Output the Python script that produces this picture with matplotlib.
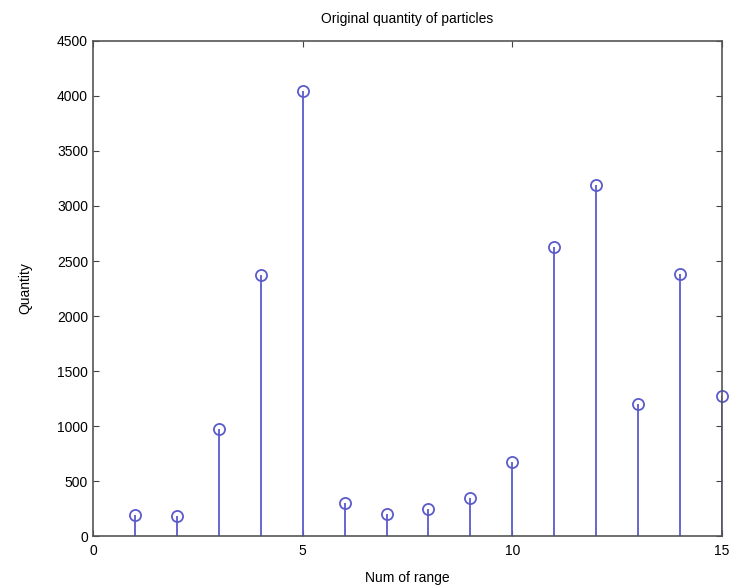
import matplotlib
matplotlib.use('Agg')
import numpy as np
import matplotlib.pyplot as plt

ranges = np.arange(1, 16)
quantity = [195, 185, 971, 2375, 4043, 303, 197, 246, 343, 670,
            2623, 3188, 1201, 2384, 1277]

xticks = [0, 5, 10, 15]
yticks = list(range(0, 4501, 500))

plt.rcParams['font.family'] = ['Liberation Sans', 'DejaVu Sans']

fig = plt.figure(figsize=(7.31, 5.88), dpi=100)
ax = fig.add_axes([0.1272, 0.0884, 0.8605, 0.8419])

stem_color = '#5b5bcc'
markers, stems, base = ax.stem(ranges, quantity, basefmt=' ')
plt.setp(stems, color=stem_color, linewidth=1.3)
plt.setp(markers, color=stem_color, marker='o', markerfacecolor='none',
         markersize=8, markeredgewidth=1.3, clip_on=False)

ax.set_xlim(0, 15)
ax.set_ylim(0, 4500)
ax.set_xticks(xticks)
ax.set_yticks(yticks)
ax.tick_params(direction='in', top=True, right=True, length=4,
               labelsize=10, color='#444444')
ax.tick_params(axis='x', pad=6)
for sp in ax.spines.values():
    sp.set_color('#555555')
    sp.set_linewidth(1.2)

ax.set_title('Original quantity of particles', fontsize=10, pad=13)
ax.set_xlabel('Num of range', fontsize=10, labelpad=9)
ax.set_ylabel('Quantity', fontsize=10, labelpad=18)

fig.savefig('out.png', dpi=100)
